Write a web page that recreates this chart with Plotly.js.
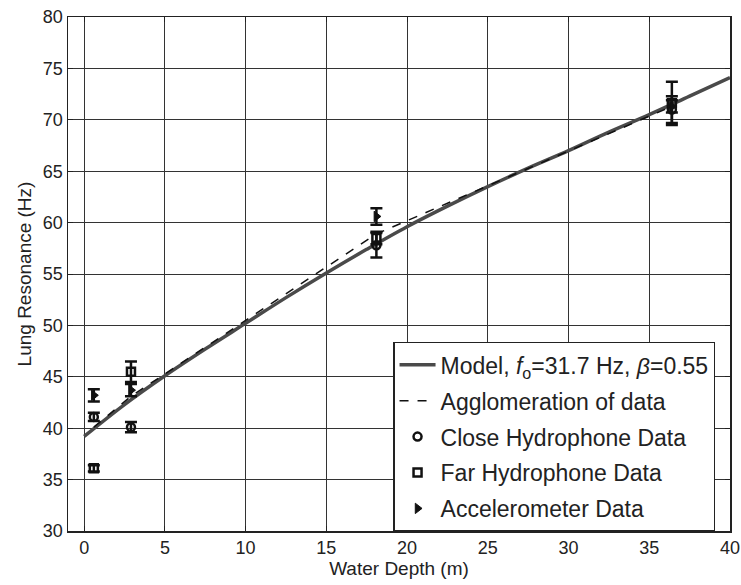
<!DOCTYPE html>
<html>
<head>
<meta charset="utf-8">
<script src="https://cdn.plot.ly/plotly-3.0.1.min.js"></script>
<style>html,body{margin:0;padding:0;background:#fff;}#chart{width:741px;height:585px;}</style>
</head>
<body>
<div id="chart"></div>
<script>
// Model curve
const modelDepth = [0, 2.5, 5, 7.5, 10, 12.5, 15, 17.5, 20, 22.5, 25, 27.5, 30, 32.5, 35, 37.5, 40];
const modelFreq  = [39.2, 42.3, 45.1, 47.7, 50.2, 52.7, 55.1, 57.4, 59.6, 61.6, 63.5, 65.3, 67.0, 68.8, 70.5, 72.3, 74.1];

// Agglomeration of data
const aggDepth = [0.6, 2.9, 18.1, 36.4];
const aggFreq  = [40.1, 43.1, 58.9, 71.3];

// Close hydrophone
const closeDepth = [0.6, 2.9, 18.1, 36.4];
const closeFreq  = [41.1, 40.1, 57.8, 71.0];
const closeErr   = [0.4, 0.5, 1.2, 1.3];

// Far hydrophone
const farDepth = [0.6, 2.9, 18.1, 36.4];
const farFreq  = [36.1, 45.5, 58.5, 71.6];
const farErr   = [0.3, 1.0, 0.6, 2.1];

// Accelerometer
const accDepth = [0.6, 2.9, 18.1, 36.4];
const accFreq  = [43.2, 43.7, 60.6, 71.3];
const accErr   = [0.6, 0.6, 0.8, 0.6];

const FONT = '"Liberation Sans", Arial, sans-serif';
const errStyle = (arr) => ({type: 'data', array: arr, visible: true, color: '#111', thickness: 2.5, width: 6});

const traces = [
  {x: modelDepth, y: modelFreq, mode: 'lines', line: {color: '#4a4a4a', width: 3.5, shape: 'spline'},
   name: 'Model, <i>f</i><sub>o</sub>=31.7 Hz, <i>β</i>=0.55', legendgroup: 'a'},
  {x: aggDepth, y: aggFreq, mode: 'lines', line: {color: '#111', width: 1.5, dash: 'dash'},
   name: 'Agglomeration of data', legendgroup: 'b'},
  {x: closeDepth, y: closeFreq, mode: 'markers', error_y: errStyle(closeErr),
   marker: {symbol: 'circle-open', size: 8, color: '#111', line: {width: 2.5, color: '#111'}},
   name: 'Close Hydrophone Data', legendgroup: 'c'},
  {x: farDepth, y: farFreq, mode: 'markers', error_y: errStyle(farErr),
   marker: {symbol: 'square-open', size: 8, color: '#111', line: {width: 2.5, color: '#111'}},
   name: 'Far Hydrophone Data', legendgroup: 'd'},
  {x: accDepth, y: accFreq, mode: 'markers', error_y: errStyle(accErr),
   marker: {symbol: 'triangle-right', size: 9, color: '#111', line: {width: 1, color: '#111'}},
   name: 'Accelerometer Data', legendgroup: 'e'}
];

const axisCommon = {
  showline: true, mirror: 'ticks', linecolor: '#222', linewidth: 1.5,
  showgrid: true, gridcolor: '#333', gridwidth: 1,
  ticks: 'inside', ticklen: 5, tickcolor: '#222', tickwidth: 1,
  zeroline: false, dtick: 5,
  tickfont: {family: FONT, size: 18, color: '#222'}
};

const layout = {
  width: 741, height: 585,
  margin: {l: 68, r: 11, t: 17, b: 54},
  paper_bgcolor: '#fff', plot_bgcolor: '#fff',
  showlegend: true,
  xaxis: Object.assign({}, axisCommon, {range: [-1, 40], tick0: 0,
    title: {text: 'Water Depth (m)', font: {family: FONT, size: 19, color: '#222'}, standoff: 0}}),
  yaxis: Object.assign({}, axisCommon, {range: [30, 80], tick0: 30,
    title: {text: 'Lung Resonance (Hz)', font: {family: FONT, size: 19, color: '#222'}, standoff: 6}}),
  legend: {x: 0.491, y: 0.368, xanchor: 'left', yanchor: 'top',
    bgcolor: '#fff', bordercolor: '#222', borderwidth: 1.5,
    font: {family: FONT, size: 23, color: '#222'},
    traceorder: 'grouped', tracegroupgap: 3, itemwidth: 36}
};

Plotly.newPlot('chart', traces, layout, {displayModeBar: false, staticPlot: true});
</script>
</body>
</html>
